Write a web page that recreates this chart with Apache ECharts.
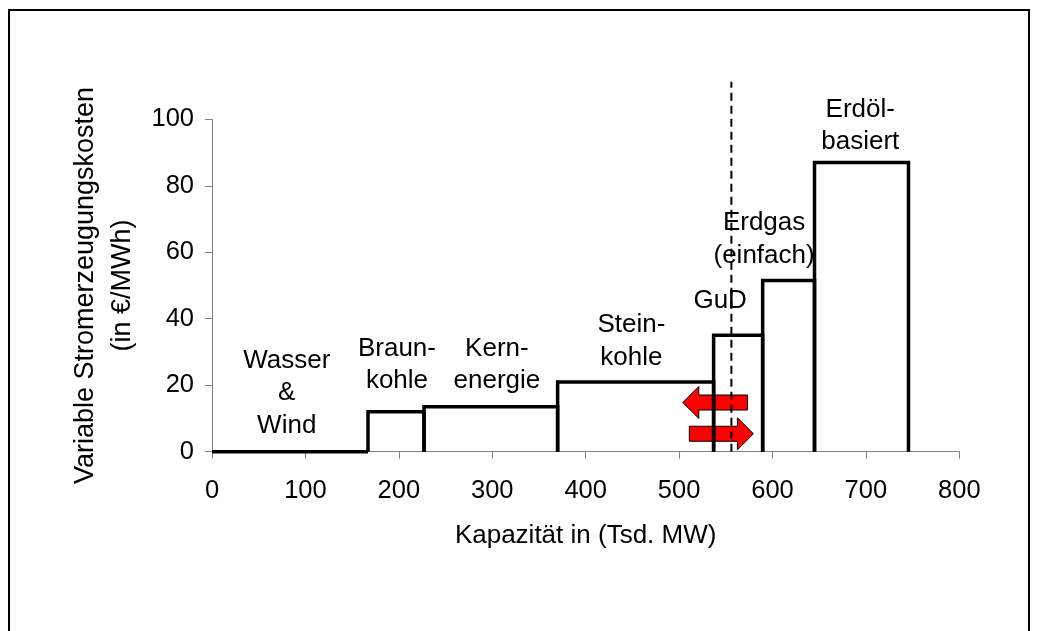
<!DOCTYPE html>
<html>
<head>
<meta charset="utf-8">
<script src="https://cdn.jsdelivr.net/npm/echarts@6/dist/echarts.min.js"></script>
<style>html,body{margin:0;padding:0;background:#fff;}#c{width:1038px;height:631px;}</style>
</head>
<body>
<div id="c"></div>
<script>
// Merit order: capacity boundaries (Tsd. MW) and variable costs (€/MWh)
const plantTypes = ['Wasser\n&\nWind', 'Braun-\nkohle', 'Kern-\nenergie', 'Stein-\nkohle', 'GuD', 'Erdgas\n(einfach)', 'Erdöl-\nbasiert'];
const capFrom = [0, 167, 227, 370, 537, 589.5, 645];
const capTo = [167, 227, 370, 537, 589.5, 645, 745.6];
const costs = [0, 12, 13.5, 21, 35, 51.5, 87];
// label anchor points (data units)
const labelX = [80, 198, 305, 449, 544, 591, 694];
const labelY = [17.6, 26.1, 26.1, 33.2, 45.3, 63.9, 98.0];
// demand line
const demandX = 556;
const demandTop = 111.3;
// shift arrows: [tailX, tipX, y]
const arrowTail = [573.3, 511];
const arrowTip = [504, 579.6];
const arrowY = [14.8, 5.4];
const xTicks = [0, 100, 200, 300, 400, 500, 600, 700, 800];
const yTicks = [0, 20, 40, 60, 80, 100];

const FONT = '"Liberation Sans", Arial, sans-serif';
const chart = echarts.init(document.getElementById('c'), null, {renderer: 'canvas'});

const blockData = plantTypes.map((n, i) => [capFrom[i], capTo[i], costs[i]]);
const labelData = plantTypes.map((n, i) => [labelX[i], labelY[i], n]);
const arrowData = arrowTail.map((t, i) => [t, arrowTip[i], arrowY[i]]);

chart.setOption({
  animation: false,
  backgroundColor: '#fff',
  grid: {left: 212, right: 78.7, top: 119.3, bottom: 179.3, containLabel: false},
  graphic: [{
    type: 'rect', z: 100,
    shape: {x: 9, y: 10, width: 1020, height: 640},
    style: {fill: 'none', stroke: '#000', lineWidth: 2}
  }],
  xAxis: {
    type: 'value', min: 0, max: 800, interval: 100,
    name: 'Kapazität in (Tsd. MW)', nameLocation: 'middle', nameGap: 71,
    nameTextStyle: {fontFamily: FONT, fontSize: 26, color: '#000'},
    axisLine: {show: true, lineStyle: {color: '#808080', width: 1}},
    axisTick: {show: true, length: 7, lineStyle: {color: '#808080'}},
    axisLabel: {margin: 26, fontFamily: FONT, fontSize: 25.5, color: '#000',
      formatter: v => xTicks.includes(v) ? String(v) : ''},
    splitLine: {show: false}
  },
  yAxis: {
    type: 'value', min: 0, max: 100, interval: 20,
    name: 'Variable Stromerzeugungskosten\n(in €/MWh)', nameLocation: 'middle', nameGap: 70, nameRotate: 90,
    nameTextStyle: {fontFamily: FONT, fontSize: 27, color: '#000', lineHeight: 37, align: 'center'},
    axisLine: {show: true, lineStyle: {color: '#808080', width: 1}},
    axisTick: {show: true, length: 7, lineStyle: {color: '#808080'}},
    axisLabel: {margin: 18, fontFamily: FONT, fontSize: 25.5, color: '#000',
      formatter: v => yTicks.includes(v) ? String(v) : ''},
    splitLine: {show: false}
  },
  series: [
    {
      type: 'custom', name: 'arrows', z: 2, clip: false,
      data: arrowData,
      renderItem: (params, api) => {
        const tail = api.coord([api.value(0), api.value(2)]);
        const tip = api.coord([api.value(1), api.value(2)]);
        const dir = tip[0] > tail[0] ? 1 : -1;
        const headLen = 16, headHalf = 16, shaftHalf = 7.5;
        const base = tip[0] - dir * headLen;
        const y = tip[1];
        return {
          type: 'polygon',
          shape: {points: [
            [tail[0], y - shaftHalf], [base, y - shaftHalf], [base, y - headHalf],
            [tip[0], y], [base, y + headHalf], [base, y + shaftHalf], [tail[0], y + shaftHalf]
          ]},
          style: {fill: '#ff0000', stroke: '#000', lineWidth: 1}
        };
      }
    },
    {
      type: 'custom', name: 'blocks', z: 3, clip: false,
      data: blockData,
      renderItem: (params, api) => {
        const x0 = api.value(0), x1 = api.value(1), h = api.value(2);
        const pts = [api.coord([x0, 0]), api.coord([x0, h]), api.coord([x1, h]), api.coord([x1, 0])];
        return {
          type: 'polyline',
          shape: {points: pts},
          style: {fill: 'none', stroke: '#000', lineWidth: 3.5, lineJoin: 'miter'}
        };
      }
    },
    {
      type: 'custom', name: 'demand', z: 4, clip: false,
      data: [[demandX, demandTop]],
      renderItem: (params, api) => {
        const p0 = api.coord([api.value(0), 0]);
        const p1 = api.coord([api.value(0), api.value(1)]);
        return {
          type: 'line',
          shape: {x1: p0[0], y1: p0[1], x2: p1[0], y2: p1[1]},
          style: {stroke: '#000', lineWidth: 2, lineDash: [8, 5]}
        };
      }
    },
    {
      type: 'custom', name: 'labels', z: 5, clip: false,
      data: labelData,
      renderItem: (params, api) => {
        const p = api.coord([api.value(0), api.value(1)]);
        return {
          type: 'text',
          style: {
            text: labelData[params.dataIndex][2], x: p[0], y: p[1],
            align: 'center', verticalAlign: 'middle',
            fontFamily: FONT, fontSize: 26, lineHeight: 32.5, fill: '#000'
          }
        };
      }
    }
  ]
});
</script>
</body>
</html>
